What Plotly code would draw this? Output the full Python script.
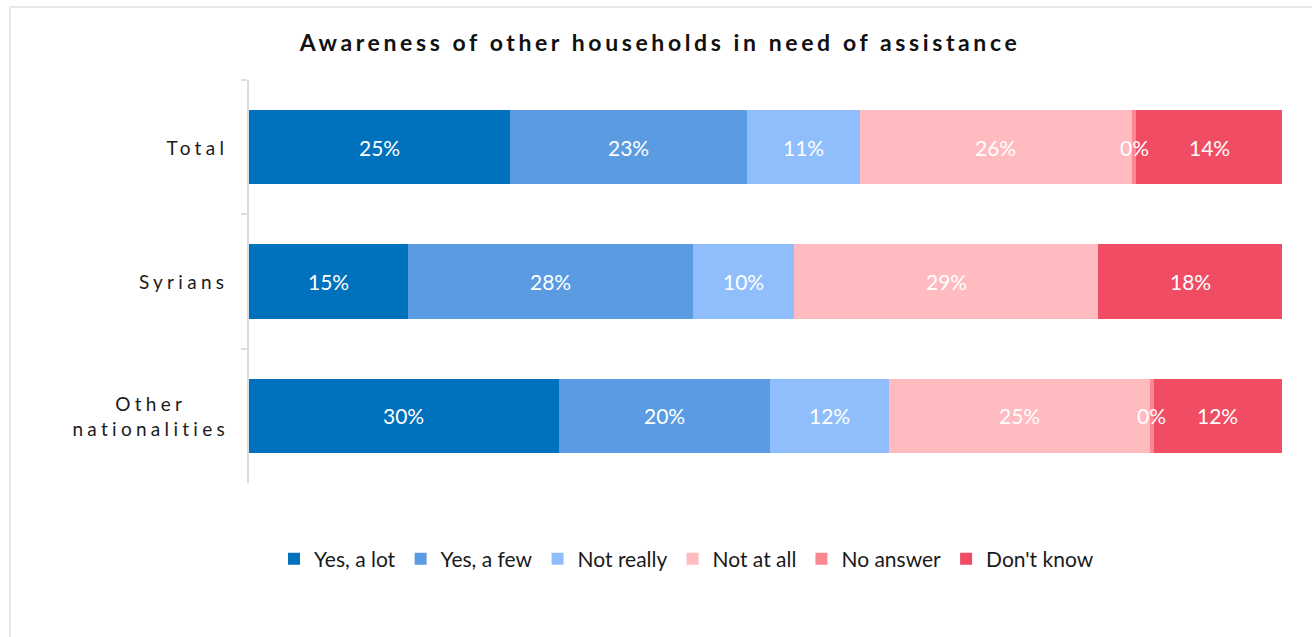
import numpy as np
import plotly.graph_objects as go

# Groups (top to bottom) and their displayed labels
categories = ["Total", "Syrians", "Other nationalities"]
category_labels = ["Total", "Syrians", "Other<br>nationalities"]

# Response shares in percent, per group
response_names = ["Yes, a lot", "Yes, a few", "Not really", "Not at all", "No answer", "Don't know"]
yes_a_lot = [25.3, 15.4, 30.0]
yes_a_few = [22.9, 27.6, 20.4]
not_really = [10.9, 9.8, 11.6]
not_at_all = [26.4, 29.4, 25.2]
no_answer = [0.4, 0.0, 0.4]
dont_know = [14.1, 17.8, 12.4]

series = [yes_a_lot, yes_a_few, not_really, not_at_all, no_answer, dont_know]
colors = ["#0071BC", "#5A9BE2", "#90BEFC", "#FFBBC0", "#FB8790", "#F04C63"]

FONT = "Lato"

fig = go.Figure()

for name, vals, col in zip(response_names, series, colors):
    fig.add_trace(go.Bar(
        y=categories, x=vals, name=name, orientation="h",
        marker=dict(color=col, line=dict(width=0)),
        hoverinfo="x+name",
    ))

# Plot-area geometry in pixels
W, H = 1312, 637
ML, MR, MT, MB = 249, 30, 80, 154
PW, PH = W - ML - MR, H - MT - MB


def px_x(px):
    return (px - ML) / PW


def px_y(py):
    return (H - MB - py) / PH


# Group labels on the left
annotations = []
for cat, lab in zip(categories, category_labels):
    if "<br>" in lab:
        annotations.append(dict(
            x=px_x(150), xref="paper", xanchor="center",
            y=cat, yref="y", yanchor="middle",
            text=lab, align="center", showarrow=False,
            font=dict(family=FONT, size=19, color="#1A1A1A"),
        ))
    else:
        annotations.append(dict(
            x=px_x(230), xref="paper", xanchor="right",
            y=cat, yref="y", yanchor="middle",
            text=lab, align="right", showarrow=False,
            font=dict(family=FONT, size=19, color="#1A1A1A"),
        ))
n_group_labels = len(annotations)

# Percentage labels centred in each segment, drawn above all bars
vals_arr = np.array(series)              # shape: (responses, groups)
ends = np.cumsum(vals_arr, axis=0)
mids = ends - vals_arr / 2
for i in range(vals_arr.shape[0]):
    for j, cat in enumerate(categories):
        v = vals_arr[i, j]
        if v > 0:
            annotations.append(dict(
                x=mids[i, j], xref="x", y=cat, yref="y",
                xanchor="center", yanchor="middle",
                text=f"{v:.0f}%", showarrow=False,
                font=dict(family=FONT, size=21, color="white"),
            ))

fig.update_layout(
    width=W, height=H,
    margin=dict(l=ML, r=MR, t=MT, b=MB, pad=0),
    paper_bgcolor="white", plot_bgcolor="white",
    barmode="stack", bargap=0.446,
    font=dict(family=FONT, color="#1A1A1A"),
    title=dict(
        text="<b>Awareness of other households in need of assistance</b>",
        x=660 / W, xanchor="center", xref="container",
        y=1 - 43 / H, yanchor="middle", yref="container",
        font=dict(family=FONT, size=23, color="#111111"),
    ),
    xaxis=dict(range=[0, 100], showticklabels=False, showgrid=False,
               zeroline=False, showline=False, fixedrange=True),
    yaxis=dict(autorange="reversed", showticklabels=False, showgrid=False,
               zeroline=False, showline=True, linecolor="#D9DDE2", linewidth=1.5,
               ticks="outside", tickson="boundaries", ticklen=6,
               tickcolor="#D9DDE2", tickwidth=1.5, fixedrange=True),
    legend=dict(
        orientation="h", x=px_x(274), xanchor="left",
        y=px_y(559), yanchor="middle",
        font=dict(family=FONT, size=21, color="#1A1A1A"),
        traceorder="normal", bgcolor="rgba(0,0,0,0)",
    ),
    annotations=annotations,
    shapes=[dict(
        type="rect", xref="paper", yref="paper", layer="below",
        x0=px_x(10), x1=px_x(W + 20), y0=px_y(H + 20), y1=px_y(7),
        line=dict(color="#E4E7EB", width=2), fillcolor="rgba(0,0,0,0)",
    )],
    showlegend=True,
)

# Letter spacing for the title and the group labels
spacing_js = """
var gd = document.getElementById('{plot_id}');
gd.querySelectorAll('.gtitle').forEach(function (t) { t.style.letterSpacing = '3.6px'; });
gd.querySelectorAll('.annotation').forEach(function (a) {
    if (Number(a.getAttribute('data-index')) < NLABELS) {
        a.querySelectorAll('.annotation-text').forEach(function (t) { t.style.letterSpacing = '4.3px'; });
    }
});
""".replace("NLABELS", str(n_group_labels))

fig.write_html("out.html", post_script=spacing_js)
